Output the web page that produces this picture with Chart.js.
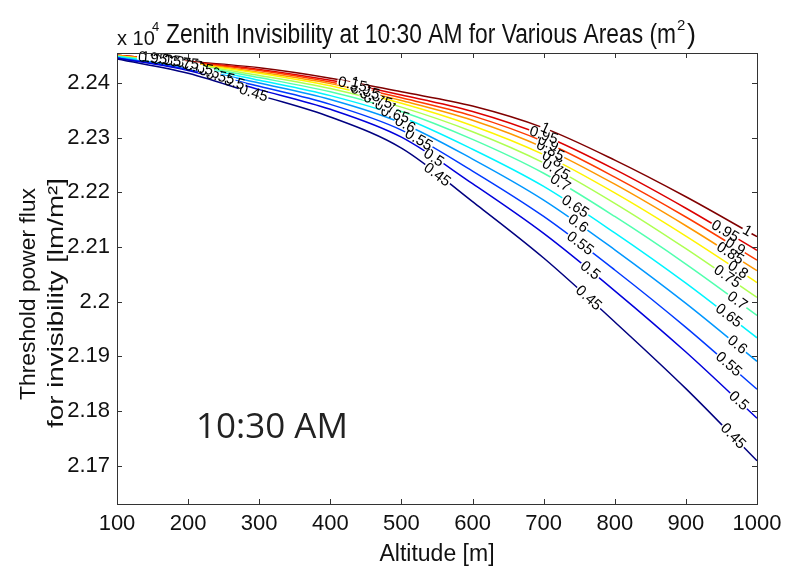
<!DOCTYPE html>
<html>
<head>
<meta charset="utf-8">
<script src="https://cdn.jsdelivr.net/npm/chart.js@4.4.1/dist/chart.umd.min.js"></script>
<style>
  html, body { margin: 0; padding: 0; background: #fff; }
</style>
</head>
<body>
<canvas id="invisChart" width="785" height="571"></canvas>
<script>
// altitude in metres, flux in units of 10^4 lm/m^2
const altitudes = [100, 200, 300, 400, 500, 600, 700, 800, 900, 1000];
const areaLevels = [0.45, 0.5, 0.55, 0.6, 0.65, 0.7, 0.75, 0.8, 0.85, 0.9, 0.95, 1];

const flux045 = [2.2444, 2.2418, 2.2378, 2.2338, 2.2281, 2.2183, 2.2080, 2.1963, 2.1841, 2.1709];
const flux050 = [2.2446, 2.2423, 2.2388, 2.2352, 2.2301, 2.2216, 2.2125, 2.2020, 2.1908, 2.1787];
const flux055 = [2.2446, 2.2425, 2.2394, 2.2361, 2.2314, 2.2239, 2.2156, 2.2058, 2.1953, 2.1840];
const flux060 = [2.2447, 2.2428, 2.2400, 2.2370, 2.2327, 2.2261, 2.2186, 2.2095, 2.1997, 2.1891];
const flux065 = [2.2448, 2.2431, 2.2405, 2.2377, 2.2338, 2.2279, 2.2211, 2.2126, 2.2034, 2.1934];
const flux070 = [2.2449, 2.2433, 2.2410, 2.2384, 2.2348, 2.2297, 2.2235, 2.2156, 2.2069, 2.1975];
const flux075 = [2.2449, 2.2435, 2.2414, 2.2390, 2.2356, 2.2311, 2.2254, 2.2180, 2.2097, 2.2008];
const flux080 = [2.2450, 2.2436, 2.2418, 2.2395, 2.2363, 2.2322, 2.2269, 2.2199, 2.2120, 2.2035];
const flux085 = [2.2450, 2.2437, 2.2420, 2.2399, 2.2368, 2.2332, 2.2282, 2.2215, 2.2139, 2.2057];
const flux090 = [2.2451, 2.2438, 2.2423, 2.2402, 2.2373, 2.2340, 2.2293, 2.2228, 2.2155, 2.2076];
const flux095 = [2.2451, 2.2439, 2.2425, 2.2405, 2.2378, 2.2348, 2.2304, 2.2242, 2.2171, 2.2094];
const flux100 = [2.2451, 2.2440, 2.2428, 2.2409, 2.2384, 2.2358, 2.2318, 2.2259, 2.2192, 2.2119];

const fluxSeries = [flux045, flux050, flux055, flux060, flux065, flux070,
                    flux075, flux080, flux085, flux090, flux095, flux100];

// jet colormap, one colour per level
const areaColors = ['#000080', '#0000dc', '#003aff', '#0097ff', '#00f4ff', '#51ffae',
                    '#aeff51', '#fff400', '#ff9700', '#ff3a00', '#dc0000', '#800000'];

// altitudes (m) where the inline contour labels sit on each line
const labelSpots = [
    [292, 550, 763, 966],
    [265, 545, 765, 974],
    [245, 524, 751, 960],
    [230, 505, 748, 972],
    [215, 491, 744, 960],
    [205, 477, 723, 972],
    [195, 467, 717, 958],
    [180, 456, 712, 973],
    [170, 449, 709, 962],
    [160, 442, 706, 969],
    [150, 431, 700, 955],
    [140, 435, 702, 986]
];

const xTicks = [100, 200, 300, 400, 500, 600, 700, 800, 900, 1000];
const yTicks = [2.17, 2.18, 2.19, 2.2, 2.21, 2.22, 2.23, 2.24];

const sans = '"Liberation Sans", Arial, Helvetica, sans-serif';

function drawFitted(ctx, text, x, y, width, font, angle) {
    ctx.save();
    ctx.font = font;
    const w = ctx.measureText(text).width;
    ctx.translate(x, y);
    if (angle) ctx.rotate(angle);
    ctx.scale(width / w, 1);
    ctx.textAlign = 'left';
    ctx.textBaseline = 'alphabetic';
    ctx.fillText(text, 0, 0);
    ctx.restore();
}

const contourDecor = {
    id: 'contourDecor',
    afterDatasetsDraw(chart) {
        const { ctx, scales: { x, y } } = chart;
        ctx.save();
        ctx.font = '15px ' + sans;
        ctx.textAlign = 'center';
        ctx.textBaseline = 'middle';
        areaLevels.forEach((lvl, i) => {
            const vals = fluxSeries[i];
            labelSpots[i].forEach(alt => {
                let k = altitudes.findIndex(a => a >= alt);
                if (k < 1) k = 1;
                const x1 = x.getPixelForValue(altitudes[k - 1]);
                const x2 = x.getPixelForValue(altitudes[k]);
                const y1 = y.getPixelForValue(vals[k - 1]);
                const y2 = y.getPixelForValue(vals[k]);
                const t = (alt - altitudes[k - 1]) / (altitudes[k] - altitudes[k - 1]);
                const px = x1 + t * (x2 - x1);
                const py = y1 + t * (y2 - y1);
                const txt = String(lvl);
                const w = ctx.measureText(txt).width;
                ctx.save();
                ctx.translate(px, py);
                ctx.rotate(Math.atan2(y2 - y1, x2 - x1));
                ctx.fillStyle = '#fff';
                ctx.fillRect(-w / 2 - 1, -2.5, w + 2, 5);
                ctx.fillStyle = '#000';
                ctx.fillText(txt, 0, 0);
                ctx.restore();
            });
        });
        ctx.restore();
    },
    afterDraw(chart) {
        const { ctx, chartArea: a, scales: { x, y } } = chart;
        ctx.save();
        // box + inward ticks
        ctx.strokeStyle = '#333';
        ctx.lineWidth = 1;
        ctx.strokeRect(Math.round(a.left) + 0.5, Math.round(a.top) + 0.5,
                       Math.round(a.right - a.left), Math.round(a.bottom - a.top));
        ctx.beginPath();
        xTicks.forEach(v => {
            const px = Math.round(x.getPixelForValue(v)) + 0.5;
            ctx.moveTo(px, a.bottom); ctx.lineTo(px, a.bottom - 5);
            ctx.moveTo(px, a.top); ctx.lineTo(px, a.top + 5);
        });
        yTicks.forEach(v => {
            const py = Math.round(y.getPixelForValue(v)) + 0.5;
            ctx.moveTo(a.left, py); ctx.lineTo(a.left + 5, py);
            ctx.moveTo(a.right, py); ctx.lineTo(a.right - 5, py);
        });
        ctx.stroke();

        ctx.fillStyle = '#111';
        // exponent + title
        ctx.font = '20px ' + sans;
        ctx.textBaseline = 'alphabetic';
        ctx.fillText('x 10', 117, 45);
        ctx.font = '13px ' + sans;
        ctx.fillText('4', 152, 31);
        drawFitted(ctx, 'Zenith Invisibility at 10:30 AM for Various Areas (m', 166, 43, 510, '27px ' + sans);
        ctx.font = '15px ' + sans;
        ctx.fillText('2', 677, 30);
        drawFitted(ctx, ')', 687, 43, 9, '27px ' + sans);

        // axis titles
        ctx.font = '23px ' + sans;
        ctx.textAlign = 'center';
        ctx.fillText('Altitude [m]', 437, 561);
        drawFitted(ctx, 'Threshold power flux', 35, 400, 212, '22px ' + sans, -Math.PI / 2);
        drawFitted(ctx, 'for invisibility [lm/m\u00b2]', 63, 428, 250, '22px ' + sans, -Math.PI / 2);

        // time stamp inside the plot
        ctx.textAlign = 'center';
        ctx.font = '35px "Open Sans", Lato, sans-serif';
        ctx.fillStyle = '#222';
        ctx.fillText('10:30 AM', 272, 438);
        ctx.restore();
    }
};

const ctx = document.getElementById('invisChart');

new Chart(ctx, {
    type: 'line',
    data: {
        datasets: areaLevels.map((lvl, i) => ({
            label: String(lvl),
            data: altitudes.map((alt, k) => ({ x: alt, y: fluxSeries[i][k] })),
            borderColor: areaColors[i],
            borderWidth: 1.5,
            pointRadius: 0,
            cubicInterpolationMode: 'monotone',
            fill: false
        }))
    },
    options: {
        responsive: false,
        animation: false,
        layout: { padding: { top: 53, right: 28, left: 0, bottom: 0 } },
        plugins: {
            legend: { display: false },
            tooltip: { enabled: false }
        },
        scales: {
            x: {
                type: 'linear',
                min: 100,
                max: 1000,
                grid: { display: false, drawTicks: false },
                border: { display: false },
                ticks: {
                    stepSize: 100,
                    padding: 7,
                    color: '#111',
                    font: { family: sans, size: 22 },
                    maxRotation: 0,
                    callback: v => String(v)
                },
                afterFit: s => {
                    s.height = 67;
                    s.paddingLeft = 0;
                    s.paddingRight = 0;
                }
            },
            y: {
                min: 2.163,
                max: 2.2455,
                grid: { display: false, drawTicks: false },
                border: { display: false },
                ticks: {
                    stepSize: 0.01,
                    includeBounds: false,
                    padding: 7,
                    color: '#111',
                    font: { family: sans, size: 22 },
                    callback: v => String(parseFloat(v.toFixed(2)))
                },
                afterFit: s => {
                    s.width = 117;
                    s.paddingTop = 0;
                    s.paddingBottom = 0;
                }
            }
        }
    },
    plugins: [contourDecor]
});
</script>
</body>
</html>
